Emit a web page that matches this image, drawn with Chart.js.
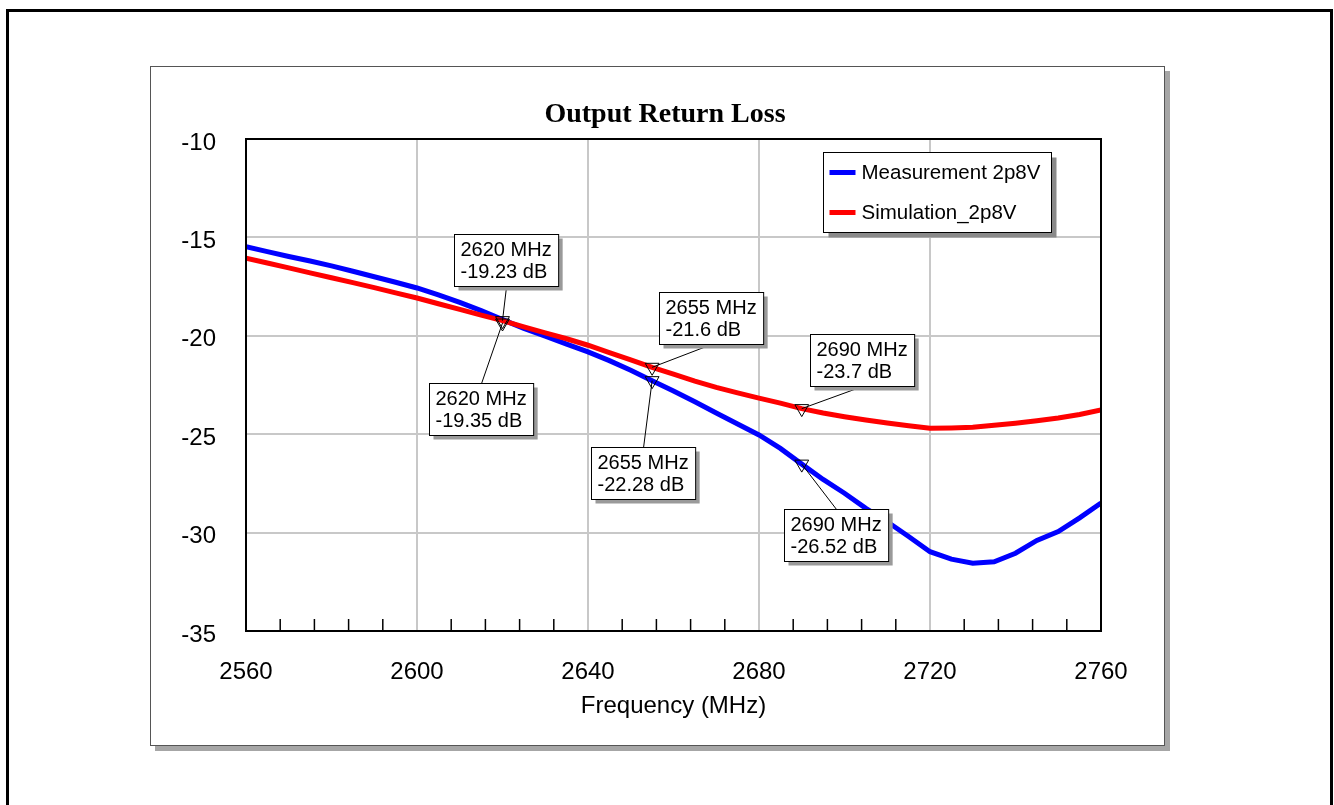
<!DOCTYPE html>
<html>
<head>
<meta charset="utf-8">
<script src="https://cdn.jsdelivr.net/npm/chart.js@4.4.1/dist/chart.umd.min.js"></script>
<style>
html,body{margin:0;padding:0;background:#fff;width:1334px;height:805px;overflow:hidden;}
#outer{position:absolute;left:6px;top:9px;width:1321px;height:830px;border:3px solid #000;}
#panel{position:absolute;left:150px;top:66px;width:1013px;height:678px;border:1px solid #555;background:#fff;box-shadow:5px 5px 0 #a6a6a6;}
#c{position:absolute;left:0;top:0;width:1334px;height:805px;}
</style>
</head>
<body>
<div id="outer"></div>
<div id="panel"></div>
<canvas id="c" width="1334" height="805"></canvas>
<script>
// ---- data ----
const freqMHz = [2560,2565,2570,2575,2580,2585,2590,2595,2600,2605,2610,2615,2620,2625,2630,2635,2640,2645,2650,2655,2660,2665,2670,2675,2680,2685,2690,2695,2700,2705,2710,2715,2720,2725,2730,2735,2740,2745,2750,2755,2760];
const measurement2p8V = [-15.47,-15.72,-15.97,-16.2,-16.45,-16.72,-17.0,-17.28,-17.57,-17.92,-18.3,-18.72,-19.18,-19.62,-20.02,-20.42,-20.82,-21.26,-21.75,-22.28,-22.8,-23.35,-23.92,-24.48,-25.04,-25.72,-26.52,-27.3,-28.0,-28.77,-29.45,-30.2,-30.97,-31.35,-31.56,-31.48,-31.05,-30.4,-29.95,-29.25,-28.5];
const simulation2p8V = [-16.06,-16.3,-16.55,-16.8,-17.05,-17.3,-17.55,-17.82,-18.08,-18.37,-18.66,-18.95,-19.23,-19.55,-19.85,-20.15,-20.48,-20.85,-21.22,-21.6,-21.95,-22.3,-22.62,-22.9,-23.17,-23.42,-23.7,-23.92,-24.11,-24.28,-24.43,-24.57,-24.7,-24.68,-24.65,-24.55,-24.44,-24.32,-24.18,-24.0,-23.77];
const markerFreqs = [2620, 2655, 2690];
const measMarkers = [-19.35, -22.28, -26.52];
const simMarkers = [-19.23, -21.6, -23.7];
const xTickLabels = [2560, 2600, 2640, 2680, 2720, 2760];
const yTickLabels = [-10, -15, -20, -25, -30, -35];
const seriesNames = ['Measurement 2p8V', 'Simulation_2p8V'];
const titleText = 'Output Return Loss';
const xTitle = 'Frequency (MHz)';

// ---- layout / style (label box offsets from their marker, px) ----
const measLabelOffsets = [[-74, 60], [-61, 66], [-18, 45]];
const simLabelOffsets = [[-49, -87], [7, -75], [8, -75]];
const SANS = "'Liberation Sans', Arial, sans-serif";
const SERIF = "'Liberation Serif', 'Times New Roman', serif";
const BLUE = '#0000ff', RED = '#ff0000';

const pts = (xs, ys) => xs.map((f, i) => ({x: f, y: ys[i]}));

const deco = {
  id: 'deco',
  afterDatasetsDraw(chart) {
    const {ctx, chartArea: a, scales: {x, y}} = chart;
    ctx.save();
    // minor ticks on bottom axis (inside)
    ctx.strokeStyle = '#000';
    ctx.lineWidth = 1.5;
    x.ticks.forEach(t => {
      if (!xTickLabels.includes(t.value)) {
        const px = x.getPixelForValue(t.value);
        ctx.beginPath();
        ctx.moveTo(px, a.bottom);
        ctx.lineTo(px, a.bottom - 12);
        ctx.stroke();
      }
    });
    // plot frame
    ctx.lineWidth = 2;
    ctx.strokeRect(a.left, a.top, a.right - a.left, a.bottom - a.top);

    // marker labels
    ctx.font = '20px ' + SANS;
    const drawLabel = (f, v, off) => {
      const mx = x.getPixelForValue(f), my = y.getPixelForValue(v);
      const l1 = f + ' MHz', l2 = v + ' dB';
      const w = Math.max(ctx.measureText(l1).width, ctx.measureText(l2).width) + 13;
      const h = 52;
      const bx = Math.round(mx + off[0]) + 0.5, by = Math.round(my + off[1]) + 0.5;
      // leader
      const ax = bx + w / 2, ay = (by > my) ? by : by + h;
      ctx.strokeStyle = '#000'; ctx.lineWidth = 1;
      ctx.beginPath(); ctx.moveTo(ax, ay); ctx.lineTo(mx, my); ctx.stroke();
      // shadow + box
      ctx.fillStyle = '#9a9a9a';
      ctx.fillRect(bx + 4, by + 4, w, h);
      ctx.fillStyle = '#fff';
      ctx.fillRect(bx, by, w, h);
      ctx.strokeRect(bx, by, w, h);
      ctx.fillStyle = '#000';
      ctx.textAlign = 'left'; ctx.textBaseline = 'middle';
      ctx.fillText(l1, bx + 6, by + 16);
      ctx.fillText(l2, bx + 6, by + 38);
    };
    markerFreqs.forEach((f, i) => drawLabel(f, simMarkers[i], simLabelOffsets[i]));
    markerFreqs.forEach((f, i) => drawLabel(f, measMarkers[i], measLabelOffsets[i]));

    // legend
    const lx = Math.round(a.right - 278) + 0.5, ly = Math.round(a.top + 13) + 0.5, lw = 228, lh = 80;
    ctx.fillStyle = '#8a8a8a';
    ctx.fillRect(lx + 5, ly + 5, lw, lh);
    ctx.fillStyle = '#fff';
    ctx.fillRect(lx, ly, lw, lh);
    ctx.strokeStyle = '#000'; ctx.lineWidth = 1;
    ctx.strokeRect(lx, ly, lw, lh);
    ctx.font = '20.5px ' + SANS;
    ctx.textAlign = 'left'; ctx.textBaseline = 'middle';
    [[BLUE, seriesNames[0], 20], [RED, seriesNames[1], 60]].forEach(([c, t, dy]) => {
      ctx.strokeStyle = c; ctx.lineWidth = 5;
      ctx.beginPath(); ctx.moveTo(lx + 6, ly + dy); ctx.lineTo(lx + 32, ly + dy); ctx.stroke();
      ctx.fillStyle = '#000';
      ctx.fillText(t, lx + 38, ly + dy + 1);
    });

    // title
    ctx.font = 'bold 28px ' + SERIF;
    ctx.textAlign = 'center'; ctx.textBaseline = 'alphabetic';
    ctx.fillStyle = '#000';
    ctx.fillText(titleText, 665, a.top - 17);
    ctx.restore();
  }
};

new Chart(document.getElementById('c'), {
  type: 'line',
  data: {
    datasets: [
      {label: 'meas markers', data: pts(markerFreqs, measMarkers), showLine: false, pointStyle: 'triangle', pointRotation: 180, pointRadius: 8, pointBorderColor: '#000', pointBorderWidth: 1, pointBackgroundColor: 'rgba(0,0,0,0)', order: 0},
      {label: 'sim markers', data: pts(markerFreqs, simMarkers), showLine: false, pointStyle: 'triangle', pointRotation: 180, pointRadius: 8, pointBorderColor: '#000', pointBorderWidth: 1, pointBackgroundColor: 'rgba(0,0,0,0)', order: 1},
      {label: seriesNames[1], data: pts(freqMHz, simulation2p8V), borderColor: RED, borderWidth: 5, pointRadius: 0, tension: 0, fill: false, order: 2, clip: 0},
      {label: seriesNames[0], data: pts(freqMHz, measurement2p8V), borderColor: BLUE, borderWidth: 5, pointRadius: 0, tension: 0, fill: false, order: 3, clip: 0}
    ]
  },
  options: {
    responsive: false,
    animation: false,
    events: [],
    layout: {padding: {left: 150, right: 233, top: 139, bottom: 80}},
    plugins: {legend: {display: false}, title: {display: false}, tooltip: {enabled: false}},
    scales: {
      x: {
        type: 'linear', min: 2560, max: 2760,
        border: {display: false},
        grid: {drawTicks: false, lineWidth: 2, color: c => xTickLabels.includes(c.tick.value) ? '#c8c8c8' : 'rgba(0,0,0,0)'},
        ticks: {stepSize: 8, autoSkip: false, maxRotation: 0, padding: 27, color: '#000', font: {family: SANS, size: 24},
          callback: v => xTickLabels.includes(v) ? String(v) : ''},
        title: {display: true, text: xTitle, color: '#000', font: {family: SANS, size: 24}, padding: {top: 0, bottom: 4}},
        afterFit: s => { s.height = 94; }
      },
      y: {
        type: 'linear', min: -35, max: -10,
        border: {display: false},
        grid: {drawTicks: false, lineWidth: 2, color: '#c8c8c8'},
        ticks: {stepSize: 5, padding: 30, labelOffset: 4, color: '#000', font: {family: SANS, size: 24},
          callback: v => yTickLabels.includes(v) ? String(v) : ''},
        afterFit: s => { s.width = 96; }
      }
    }
  },
  plugins: [deco]
});
</script>
</body>
</html>
